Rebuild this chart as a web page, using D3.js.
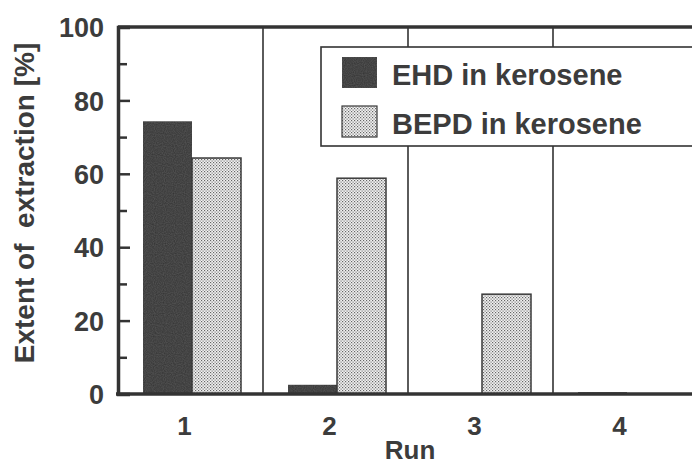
<!DOCTYPE html>
<html>
<head>
<meta charset="utf-8">
<script src="https://cdn.jsdelivr.net/npm/d3@7"></script>
<style>
  html, body { margin: 0; padding: 0; background: #fff; }
  svg { display: block; }
  text { font-family: "Liberation Sans", Arial, Helvetica, sans-serif; font-weight: bold; fill: #3c3c3c; white-space: pre; }
</style>
</head>
<body>
<svg id="chart" width="692" height="464"></svg>
<script>
// ---- data ----
const runs = ["1", "2", "3", "4"];
const seriesNames = ["EHD in kerosene", "BEPD in kerosene"];
const ehdValues = [74.3, 2.5, 0, 0.5];
const bepdValues = [64.3, 58.8, 27.2, 0];
const yMajorTicks = [0, 20, 40, 60, 80, 100];
const yMinorTicks = [10, 30, 50, 70, 90];

const svg = d3.select("#chart");
const ink = "#333";

// pattern for stippled bars
const defs = svg.append("defs");
const pat = defs.append("pattern").attr("id", "stipple")
  .attr("patternUnits", "userSpaceOnUse").attr("width", 3).attr("height", 3);
pat.append("rect").attr("width", 3).attr("height", 3).attr("fill", "#f2f2f2");
pat.append("rect").attr("x", 0).attr("y", 0).attr("width", 1.2).attr("height", 1.2).attr("fill", "#666");
pat.append("rect").attr("x", 1.5).attr("y", 1.5).attr("width", 1.2).attr("height", 1.2).attr("fill", "#777");

// texture for dark bars
const f = defs.append("filter").attr("id", "grain").attr("x", 0).attr("y", 0).attr("width", 1).attr("height", 1);
f.append("feTurbulence").attr("type", "fractalNoise").attr("baseFrequency", 0.9).attr("numOctaves", 1).attr("seed", 3).attr("result", "n");
f.append("feColorMatrix").attr("in", "n").attr("type", "matrix")
  .attr("values", "0 0 0 0 0.22  0 0 0 0 0.22  0 0 0 0 0.22  0 0 0 0.35 0").attr("result", "g");
f.append("feComposite").attr("in", "g").attr("in2", "SourceGraphic").attr("operator", "in").attr("result", "gc");
f.append("feMerge").call(m => { m.append("feMergeNode").attr("in", "SourceGraphic"); m.append("feMergeNode").attr("in", "gc"); });

// scales
const x = d3.scaleBand().domain(runs).range([118, 698]).padding(0);
const y = d3.scaleLinear().domain([0, 100]).range([394, 27]);
const xSub = d3.scaleBand().domain(seriesNames).range([25, 123]).padding(0);

// separators between runs
svg.append("g").selectAll("line").data(runs.slice(1)).join("line")
  .attr("x1", d => x(d)).attr("x2", d => x(d))
  .attr("y1", y(100)).attr("y2", y(0))
  .attr("stroke", ink).attr("stroke-width", 1.6);

// bars
const rows = runs.map((r, i) => ({ run: r, vals: [ehdValues[i], bepdValues[i]] }));
const g = svg.append("g");
rows.forEach(row => {
  row.vals.forEach((v, j) => {
    if (v <= 0) return;
    const name = seriesNames[j];
    g.append("rect")
      .attr("x", x(row.run) + xSub(name))
      .attr("y", y(v))
      .attr("width", xSub.bandwidth())
      .attr("height", y(0) - y(v))
      .attr("fill", j === 0 ? "#2e2e2e" : "url(#stipple)")
      .attr("filter", j === 0 ? "url(#grain)" : null)
      .attr("stroke", j === 0 ? "none" : "#3a3a3a")
      .attr("stroke-width", 1.5);
  });
});

// top border
svg.append("line").attr("x1", 118).attr("x2", 692).attr("y1", y(100)).attr("y2", y(100))
  .attr("stroke", ink).attr("stroke-width", 3.5);
// bottom axis line
svg.append("line").attr("x1", 116).attr("x2", 692).attr("y1", y(0)).attr("y2", y(0))
  .attr("stroke", ink).attr("stroke-width", 3.5);

// y axis (major)
const yAxis = svg.append("g").attr("transform", "translate(118,0)")
  .call(d3.axisLeft(y).tickValues(yMajorTicks).tickSize(-12).tickPadding(14).tickFormat(d3.format("d")));
yAxis.select(".domain").attr("stroke", ink).attr("stroke-width", 3.5);
yAxis.selectAll(".tick line").attr("stroke", ink).attr("stroke-width", 2.5);
yAxis.selectAll(".tick text").style("font-size", "27px").attr("dy", "0.36em").attr("fill", "#3c3c3c");
// minor ticks
const yMinor = svg.append("g").attr("transform", "translate(118,0)")
  .call(d3.axisLeft(y).tickValues(yMinorTicks).tickSize(-9).tickFormat(""));
yMinor.select(".domain").remove();
yMinor.selectAll(".tick line").attr("stroke", ink).attr("stroke-width", 2.5);

// x tick labels
svg.append("g").selectAll("text").data(runs).join("text")
  .attr("x", d => x(d) + x.bandwidth() / 2 - 6)
  .attr("y", 435)
  .attr("text-anchor", "middle")
  .style("font-size", "26px")
  .text(d => d);

// axis titles
svg.append("text").attr("x", 410).attr("y", 459).attr("text-anchor", "middle")
  .style("font-size", "26px").text("Run");
svg.append("text").attr("transform", "translate(34,203) rotate(-90)")
  .attr("text-anchor", "middle").style("font-size", "28px")
  .text("Extent of  extraction [%]");

// legend
const leg = svg.append("g");
leg.append("rect").attr("x", 321).attr("y", 47).attr("width", 400).attr("height", 99)
  .attr("fill", "#fff").attr("stroke", ink).attr("stroke-width", 1.6);
const legY = [57, 106];
seriesNames.forEach((name, j) => {
  leg.append("rect").attr("x", 342).attr("y", legY[j]).attr("width", 35).attr("height", 31)
    .attr("fill", j === 0 ? "#2e2e2e" : "url(#stipple)")
    .attr("filter", j === 0 ? "url(#grain)" : null)
    .attr("stroke", "#3a3a3a").attr("stroke-width", 1.2);
  leg.append("text").attr("x", 392).attr("y", legY[j] + 28)
    .style("font-size", "29px").text(name);
});
</script>
</body>
</html>
